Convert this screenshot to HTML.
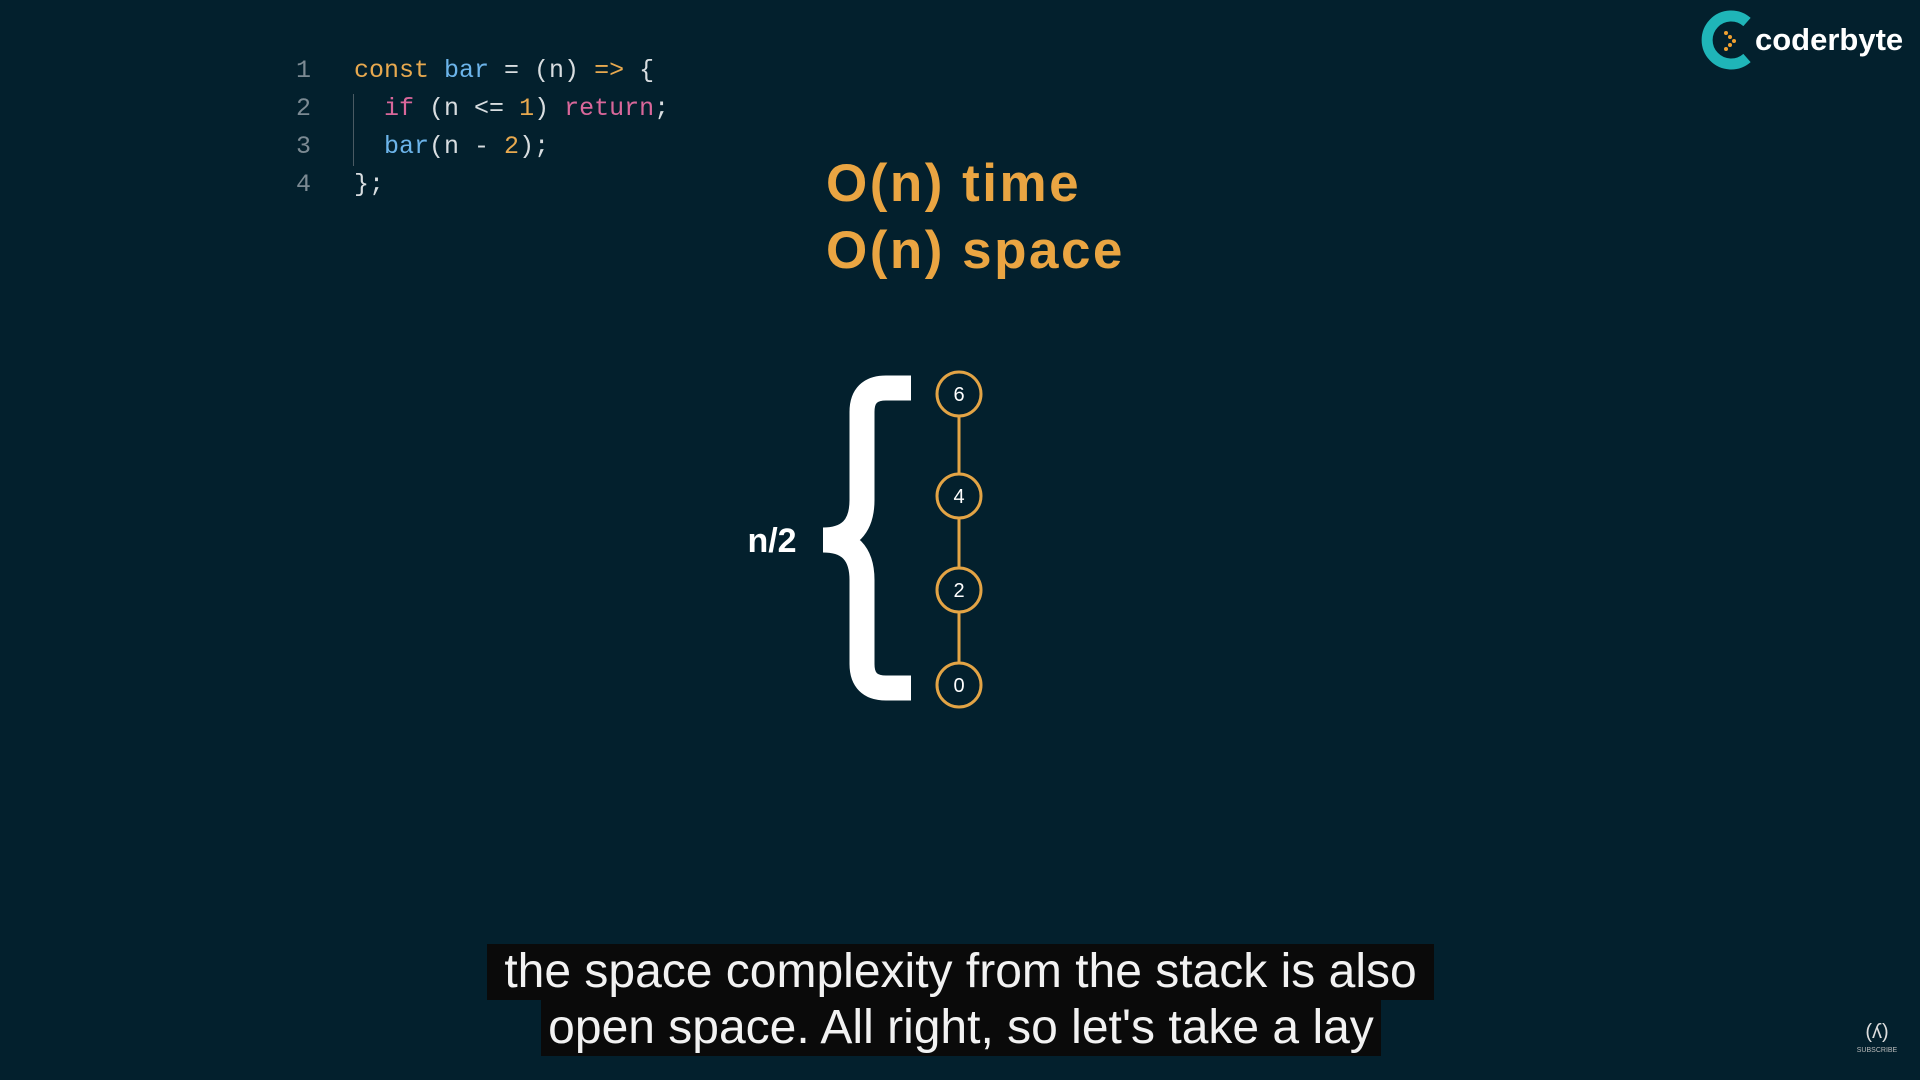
<!DOCTYPE html>
<html><head><meta charset="utf-8"><style>
html,body{margin:0;padding:0}
body{width:1920px;height:1080px;background:#03202d;position:relative;overflow:hidden;font-family:"Liberation Sans",sans-serif}
.code{position:absolute;left:0;top:0;font-family:"Liberation Mono",monospace;font-size:25px;color:#d8dde0}
.ln{position:absolute;left:296px;width:20px;color:#7c8a93}
.cl{position:absolute;left:354px;white-space:pre}
.o{color:#e8a94f}.b{color:#6cb4ea}.p{color:#d9679a}
.title{position:absolute;left:826px;font-weight:bold;font-size:53px;letter-spacing:2.5px;color:#eaa542;line-height:67px;top:150px}
.sub{position:absolute;background:#0a0a0a;color:#f2f2f2;font-size:48px;height:56px;line-height:56px;text-align:center;white-space:nowrap}
</style></head><body>
<div class="code">
<div class="ln" style="top:56px">1</div><div class="cl" style="top:56px"><span class="o">const</span> <span class="b">bar</span> = (n) <span class="o">=&gt;</span> {</div>
<div class="ln" style="top:94px">2</div><div class="cl" style="top:94px">  <span class="p">if</span> (n &lt;= <span class="o">1</span>) <span class="p">return</span>;</div>
<div class="ln" style="top:132px">3</div><div class="cl" style="top:132px">  <span class="b">bar</span>(n - <span class="o">2</span>);</div>
<div class="ln" style="top:170px">4</div><div class="cl" style="top:170px">};</div>
</div>
<div style="position:absolute;left:353px;top:94px;width:1px;height:72px;background:#4a5a63"></div>
<div class="title">O(n) time<br>O(n) space</div>
<svg width="1920" height="1080" style="position:absolute;left:0;top:0">
<path d="M911,388 H886 Q862,388 862,412 V500 Q862,540 823,540 Q862,540 862,580 V664 Q862,688 886,688 H911" fill="none" stroke="#fff" stroke-width="25"/>
<text x="772" y="552" fill="#fff" font-family="Liberation Sans" font-weight="bold" font-size="34" text-anchor="middle">n/2</text>
<line x1="959" y1="393" x2="959" y2="684" stroke="#e3a445" stroke-width="3"/>
<g fill="#03202d" stroke="#e3a445" stroke-width="3">
<circle cx="959" cy="394" r="22"/><circle cx="959" cy="496" r="22"/><circle cx="959" cy="590" r="22"/><circle cx="959" cy="685" r="22"/></g>
<g fill="#fff" font-family="Liberation Sans" font-size="20" text-anchor="middle">
<text x="959" y="401">6</text><text x="959" y="503">4</text><text x="959" y="597">2</text><text x="959" y="692">0</text></g>
<path d="M1747,22 A24,24 0 1 0 1747,58" fill="none" stroke="#1fb5b8" stroke-width="11"/>
<g fill="#f0a030"><circle cx="1726" cy="33" r="2"/><circle cx="1730" cy="37" r="2"/><circle cx="1734" cy="41" r="2"/><circle cx="1730" cy="45" r="2"/><circle cx="1726" cy="49" r="2"/></g>
<text x="1755" y="50" fill="#fff" font-family="Liberation Sans" font-weight="bold" font-size="31">coderbyte</text>
<text x="1877" y="1038" fill="#ddd" font-family="Liberation Sans" font-size="20" text-anchor="middle">(ʎ)</text>
<text x="1877" y="1052" fill="#bbb" font-family="Liberation Sans" font-size="7" text-anchor="middle">SUBSCRIBE</text>
</svg>
<div class="sub" style="left:487px;top:944px;width:947px">the space complexity from the stack is also</div>
<div class="sub" style="left:541px;top:1000px;width:840px">open space. All right, so let's take a lay</div>
</body></html>
